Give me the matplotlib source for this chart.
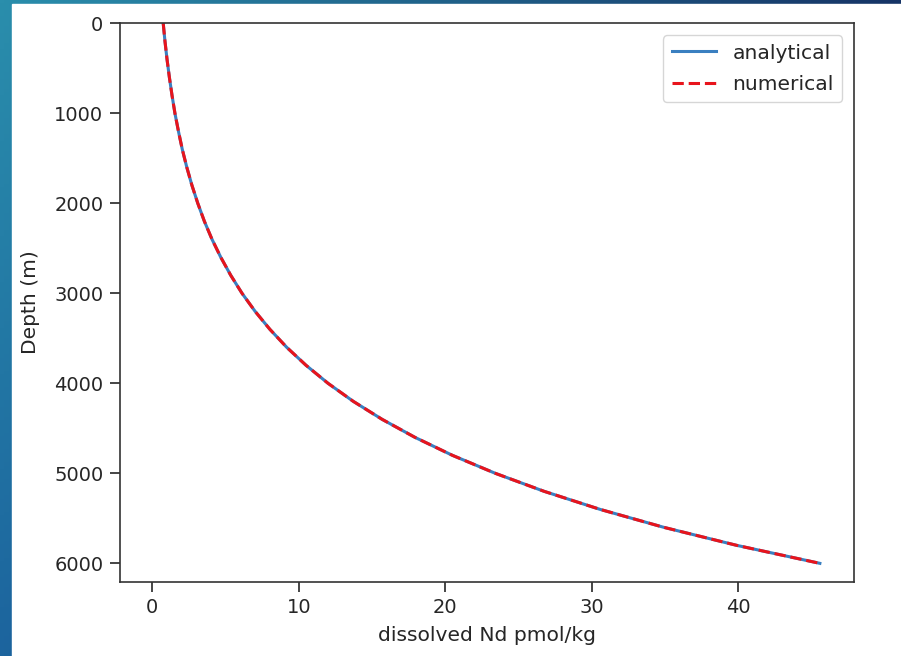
import numpy as np
import matplotlib
matplotlib.use("Agg")
import matplotlib.pyplot as plt

# Depth grid (m) and dissolved Nd concentration (pmol/kg)
depth = [0, 200, 400, 600, 800, 1000, 1200, 1400, 1600, 1800, 2000,
         2200, 2400, 2600, 2800, 3000, 3200, 3400, 3600, 3800, 4000,
         4200, 4400, 4600, 4800, 5000, 5200, 5400, 5600, 5800, 6000]
nd_analytical = [0.75, 0.87, 1.01, 1.17, 1.35, 1.55, 1.79, 2.05, 2.36, 2.71, 3.11,
                 3.56, 4.08, 4.68, 5.36, 6.13, 7.02, 8.03, 9.18, 10.50, 12.00,
                 13.72, 15.69, 17.93, 20.49, 23.42, 26.75, 30.56, 34.92, 39.89, 45.57]
nd_numerical = [0.75, 0.87, 1.01, 1.17, 1.35, 1.55, 1.79, 2.05, 2.36, 2.71, 3.11,
                3.56, 4.08, 4.68, 5.36, 6.13, 7.02, 8.03, 9.18, 10.50, 12.00,
                13.72, 15.69, 17.93, 20.49, 23.42, 26.75, 30.56, 34.92, 39.89, 45.57]
xticks = [0, 10, 20, 30, 40]
yticks = [0, 1000, 2000, 3000, 4000, 5000, 6000]

W, H = 901, 656
fig = plt.figure(figsize=(W / 100, H / 100), dpi=100)

# slide-style blue gradient frame behind the white chart panel
bg = fig.add_axes([0, 0, 1, 1], zorder=-10)
gx = np.linspace(0, 1, 200)[None, :, None]
gy = np.linspace(0, 1, 200)[:, None, None]
tl = np.array([42, 142, 172]) / 255
tr = np.array([22, 52, 102]) / 255
bl = np.array([28, 100, 158]) / 255
br = np.array([20, 60, 110]) / 255
grad = (tl * (1 - gx) * (1 - gy) + tr * gx * (1 - gy)
        + bl * (1 - gx) * gy + br * gx * gy)
bg.imshow(grad, extent=[0, 1, 0, 1], aspect="auto", origin="upper")
bg.add_patch(plt.Rectangle((12 / W, 0), 1, 1 - 4 / H, color="white"))
bg.set_xlim(0, 1)
bg.set_ylim(0, 1)
bg.axis("off")

ax = fig.add_axes([120 / W, 74.3 / H, 734 / W, 558.4 / H])
ax.plot(nd_analytical, depth, color="#3a7fc0", lw=2.2, label="analytical")
ax.plot(nd_numerical, depth, color="#e8141c", lw=2.2, ls=(0, (3.7, 1.6)),
        label="numerical")

ax.set_xlim(-2.2, 47.9)
ax.set_ylim(6204, 0)
ax.set_xticks(xticks)
ax.set_yticks(yticks)

txt = "#262626"
ax.tick_params(labelsize=14, length=7, width=1.2, colors=txt, pad=5)
for s in ax.spines.values():
    s.set_linewidth(1.2)
    s.set_color("#333333")
ax.set_xlabel("dissolved Nd pmol/kg", fontsize=14.6, color=txt, labelpad=6)
ax.set_ylabel("Depth (m)", fontsize=14.6, color=txt, labelpad=10)

leg = ax.legend(loc="upper right", fontsize=14.6, handlelength=2.2,
                labelspacing=0.6, borderaxespad=0.6, framealpha=0.8)
for t in leg.get_texts():
    t.set_color(txt)

fig.savefig("out.png", dpi=100)
